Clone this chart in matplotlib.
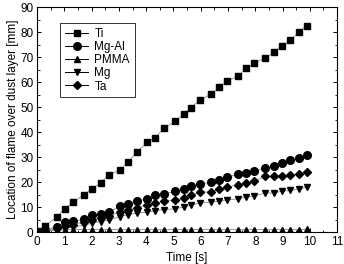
import matplotlib
matplotlib.use("Agg")
import matplotlib.pyplot as plt
from matplotlib.ticker import MultipleLocator

plt.rcParams['font.family'] = ['Liberation Sans', 'DejaVu Sans']

time = [0.07, 0.3, 0.73, 1.01, 1.32, 1.71, 2.02, 2.33, 2.64, 3.04, 3.34, 3.65, 4.04, 4.34, 4.64,
        5.06, 5.37, 5.65, 5.96, 6.36, 6.67, 6.97, 7.37, 7.67, 7.96, 8.37, 8.68, 8.97, 9.29, 9.59, 9.89]
ti = [0.3, 2.6, 6.0, 9.3, 12.0, 14.9, 17.3, 19.7, 23.0, 24.8, 27.9, 31.9, 36.0, 37.7, 41.5,
      44.3, 47.2, 49.7, 52.8, 55.1, 57.9, 60.4, 62.4, 65.5, 67.6, 69.7, 71.9, 74.5, 76.7, 80.0, 82.5]
mgal = [0.2, 0.8, 2.2, 3.9, 4.3, 5.1, 6.7, 7.3, 8.0, 10.4, 11.3, 12.4, 13.3, 14.7, 15.2,
        16.3, 17.1, 18.4, 19.1, 20.0, 20.9, 21.9, 23.1, 23.7, 24.4, 25.6, 26.5, 27.6, 28.7, 29.7, 30.7]
pmma = [0.2, 0.6, 0.8, 0.9, 1.0, 1.0, 1.0, 1.0, 1.0, 1.0, 1.0, 1.0, 1.0, 1.0, 1.0,
        1.0, 1.0, 1.0, 1.0, 1.0, 1.0, 1.0, 1.0, 1.0, 1.0, 1.0, 1.0, 1.0, 1.0, 1.0, 1.1]
mg = [0.1, 0.3, 0.8, 1.5, 2.0, 2.8, 3.5, 4.2, 4.8, 6.2, 7.0, 7.5, 8.0, 8.5, 9.0,
      9.3, 10.0, 10.7, 11.6, 12.0, 12.3, 12.9, 13.3, 14.0, 14.4, 15.6, 15.7, 16.3, 16.7, 17.1, 18.0]
ta = [0.2, 0.5, 1.5, 2.5, 3.0, 4.0, 5.0, 5.5, 6.5, 8.0, 8.8, 9.8, 10.8, 11.5, 12.3,
      12.9, 13.5, 14.7, 16.0, 16.0, 17.1, 17.9, 18.9, 19.7, 20.4, 22.3, 22.3, 22.5, 22.9, 23.3, 24.1]

labels = ['Ti', 'Mg-Al', 'PMMA', 'Mg', 'Ta']
markers = ['s', 'o', '^', 'v', 'D']
sizes = [5, 5.5, 5, 5, 4.5]

fig = plt.figure(figsize=(3.44, 2.64), dpi=100)
ax = fig.add_axes([0.1076, 0.121, 0.8724, 0.852])

for y, lab, m, s in zip([ti, mgal, pmma, mg, ta], labels, markers, sizes):
    ax.plot(time, y, color='#888888', lw=0.6, marker=m, ms=s,
            mfc='black', mec='black', label=lab)

ax.set_xlim(0, 11)
ax.set_ylim(0, 90)
ax.xaxis.set_major_locator(MultipleLocator(1))
ax.xaxis.set_minor_locator(MultipleLocator(0.5))
ax.yaxis.set_major_locator(MultipleLocator(10))
ax.yaxis.set_minor_locator(MultipleLocator(5))
ax.tick_params(which='both', direction='in', top=True, right=True, labelsize=8.5, pad=2.5)
ax.tick_params(which='major', length=3, width=0.7)
ax.tick_params(which='minor', length=1.8, width=0.6)
for sp in ax.spines.values():
    sp.set_linewidth(0.8)

ax.set_xlabel('Time [s]', fontsize=8.5, labelpad=3)
ax.set_ylabel('Location of flame over dust layer [mm]', fontsize=8.5, labelpad=1)

leg = ax.legend(loc='upper left', bbox_to_anchor=(0.077, 0.929), borderaxespad=0,
                fontsize=8.5, frameon=True, fancybox=False, edgecolor='black',
                handlelength=2.0, labelspacing=0.1, borderpad=0.4,
                handletextpad=0.5, handleheight=0.8)
leg.get_frame().set_linewidth(0.7)
for h in leg.legend_handles:
    h.set_color('black')
    h.set_linewidth(0.7)

fig.savefig('out.png', dpi=100)
